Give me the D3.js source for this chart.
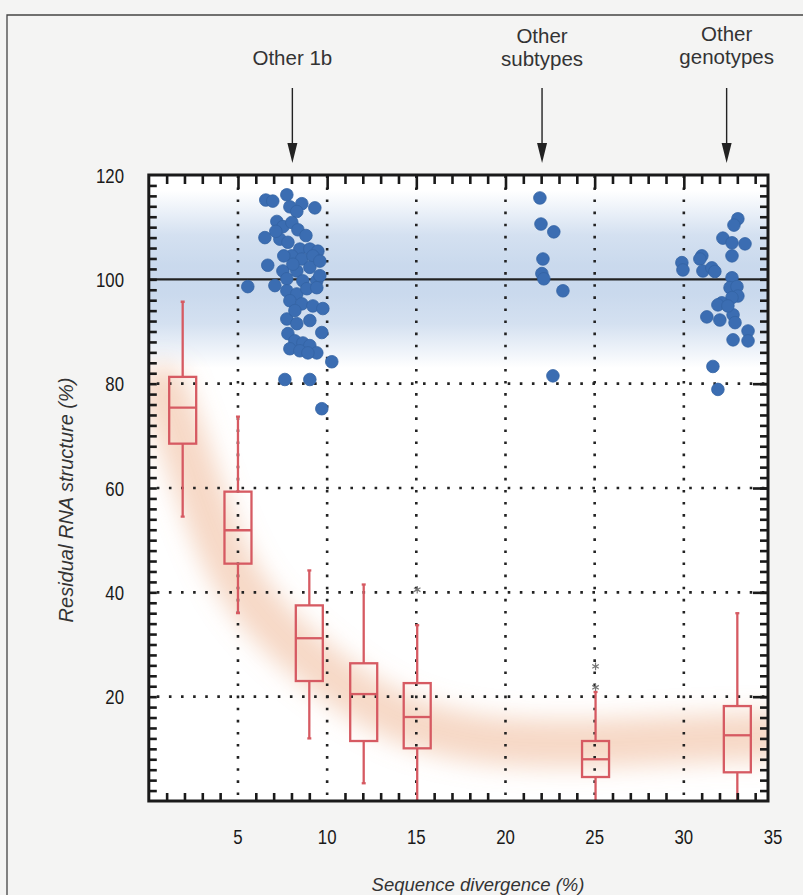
<!DOCTYPE html>
<html>
<head>
<meta charset="utf-8">
<script src="https://cdn.jsdelivr.net/npm/d3@7"></script>
<style>
  body { margin: 0; background: #f4f4f3; }
  svg { display: block; }
</style>
</head>
<body>
<div class="chart"></div>
<script>
// box plots per divergence bin
const boxX = [1.9, 5.0, 9.0, 12.05, 15.05, 25.05, 33.0];
const boxLow = [54.5, 36, 12, 3.4, 0, 0, 0];
const boxQ1 = [68.5, 45.5, 23, 11.5, 10.1, 4.6, 5.5];
const boxMedian = [75.4, 51.9, 31.2, 20.5, 16.1, 8.0, 12.6];
const boxQ3 = [81.3, 59.3, 37.5, 26.4, 22.6, 11.5, 18.2];
const boxHigh = [95.7, 73.7, 44.2, 41.5, 33.7, 20.9, 36];
const outlierX = [15.05, 25.05, 25.05];
const outlierY = [40.5, 25.8, 21.8];

// scatter groups
const other1bX = [6.56, 6.95, 7.74, 7.91, 8.58, 9.31, 8.30, 7.18, 7.52, 8.02, 8.36, 6.51, 7.35, 7.80, 8.47,
  9.03, 9.48, 8.02, 8.58, 9.20, 6.67, 7.52, 8.30, 9.03, 7.74, 8.64, 9.42, 9.59, 5.55, 7.07, 7.74, 8.30, 8.86,
  9.42, 7.91, 8.58, 9.20, 9.76, 7.74, 8.30, 9.03, 9.70, 7.80, 8.19, 8.64, 9.03, 9.42, 7.91, 8.47, 8.92, 10.26,
  7.63, 9.03, 9.70, 7.12, 8.81, 9.59, 8.08, 7.57, 8.19];
const other1bY = [115.2, 115.0, 116.2, 113.9, 114.5, 113.7, 113.0, 111.1, 110.1, 110.9, 109.5, 108.0, 107.7, 107.1, 105.8,
  105.8, 105.4, 104.5, 103.9, 104.5, 102.7, 101.6, 101.6, 102.3, 100.1, 99.7, 99.7, 100.7, 98.6, 98.8, 97.8, 97.2, 98.2,
  98.4, 95.9, 95.3, 94.9, 94.4, 92.4, 91.5, 92.1, 89.8, 89.6, 88.2, 87.8, 87.3, 85.9, 86.7, 86.3, 85.9, 84.2,
  80.8, 80.8, 75.2, 109.2, 108.4, 103.5, 102.9, 104.5, 94.0];
const subtypesX = [21.93, 21.99, 22.71, 22.10, 22.04, 22.15, 23.22, 22.66];
const subtypesY = [115.6, 110.6, 109.1, 103.9, 101.1, 100.1, 97.8, 81.5];
const genotypesX = [33.03, 32.81, 32.19, 32.70, 33.43, 32.70, 31.01, 30.90, 29.89, 29.95, 31.07, 31.57, 31.74, 32.70,
  32.59, 32.98, 33.03, 32.70, 32.13, 31.91, 31.29, 32.02, 32.76, 32.87, 33.60, 33.60, 32.76, 31.63, 31.91, 32.47];
const genotypesY = [111.6, 110.4, 107.9, 107.0, 106.8, 104.5, 104.5, 103.9, 103.2, 101.8, 101.6, 102.2, 101.5, 100.3,
  98.4, 98.6, 96.8, 96.5, 95.5, 95.1, 92.8, 92.2, 93.2, 91.7, 90.1, 88.2, 88.4, 83.3, 78.9, 94.9];

// shaded decay trend behind the boxes
const trendX = [0.8, 1.5, 2.5, 3.5, 4.5, 6, 8, 10, 12, 14, 16, 19, 22, 25, 28, 31, 34.7];
const trendY = [79, 73, 63, 53, 45, 37, 30, 24.5, 19.5, 16, 13.5, 11.5, 11, 11, 11.5, 12, 12.5];

const xTickLabels = [5, 10, 15, 20, 25, 30, 35];
const yTickLabels = [20, 40, 60, 80, 100, 120];
const gridX = [5, 10, 15, 20, 25, 30];
const gridY = [20, 40, 60, 80];
const arrowX = [8.05, 22.05, 32.4];
const arrowText = [["Other 1b"], ["Other", "subtypes"], ["Other", "genotypes"]];

const width = 803, height = 895;
const x = d3.scaleLinear().domain([0, 35]).range([148.8, 773]);
const y = d3.scaleLinear().domain([0, 120]).range([801, 175]);
const xEnd = 34.72;
const boxColor = "#d65a62", dotColor = "#3b6db2";
const font = "'Liberation Sans', Arial, sans-serif";

const svg = d3.select(".chart").append("svg")
  .attr("width", width)
  .attr("height", height);

const defs = svg.append("defs");
defs.append("clipPath").attr("id", "plot")
  .append("rect")
  .attr("x", x(0)).attr("y", y(120))
  .attr("width", x(xEnd) - x(0)).attr("height", y(0) - y(120));

const grad = defs.append("linearGradient").attr("id", "band")
  .attr("x1", 0).attr("x2", 0).attr("y1", 0).attr("y2", 1);
[[0, 0], [0.25, 0.5], [0.42, 0.62], [0.58, 0.62], [0.75, 0.5], [1, 0]].forEach(function (s) {
  grad.append("stop").attr("offset", s[0]).attr("stop-color", "#a9c2e2").attr("stop-opacity", s[1]);
});

defs.append("filter").attr("id", "blur")
  .attr("x", "-20%").attr("y", "-20%").attr("width", "140%").attr("height", "140%")
  .append("feGaussianBlur").attr("stdDeviation", 12);

// page frame
svg.append("path")
  .attr("d", "M7,895 L7,15 L803,15")
  .attr("fill", "none").attr("stroke", "#444").attr("stroke-width", 1.3);

// plot background
svg.append("rect")
  .attr("x", x(0)).attr("y", y(120))
  .attr("width", x(xEnd) - x(0)).attr("height", y(0) - y(120))
  .attr("fill", "#ffffff");

const plot = svg.append("g").attr("clip-path", "url(#plot)");

plot.append("rect")
  .attr("x", x(0)).attr("y", y(117))
  .attr("width", x(xEnd) - x(0)).attr("height", y(83) - y(117))
  .attr("fill", "url(#band)");

const trendLine = d3.line()
  .x(function (d, i) { return x(trendX[i]); })
  .y(function (d) { return y(d); })
  .curve(d3.curveBasis);

plot.append("path")
  .attr("d", trendLine(trendY))
  .attr("fill", "none")
  .attr("stroke", "#e9a276")
  .attr("stroke-width", 48)
  .attr("stroke-opacity", 0.42)
  .attr("stroke-linecap", "round")
  .attr("filter", "url(#blur)");

// dotted grid
plot.selectAll(".gx").data(gridX).enter().append("line")
  .attr("x1", function (d) { return x(d); }).attr("x2", function (d) { return x(d); })
  .attr("y1", y(0) - 6).attr("y2", y(120))
  .attr("stroke", "#222").attr("stroke-width", 2.6).attr("stroke-dasharray", "2.6,9.5");
plot.selectAll(".gy").data(gridY).enter().append("line")
  .attr("x1", x(0) + 8).attr("x2", x(xEnd))
  .attr("y1", function (d) { return y(d); }).attr("y2", function (d) { return y(d); })
  .attr("stroke", "#222").attr("stroke-width", 2.6).attr("stroke-dasharray", "2.6,9.5");

plot.append("line")
  .attr("x1", x(0)).attr("x2", x(xEnd))
  .attr("y1", y(100)).attr("y2", y(100))
  .attr("stroke", "#222").attr("stroke-width", 2.2);

// box plots
const boxW = 27;
const boxes = plot.selectAll(".box").data(boxX).enter().append("g")
  .attr("stroke", boxColor).attr("stroke-width", 2.3).attr("fill", "none");
boxes.append("line")
  .attr("x1", function (d) { return x(d); }).attr("x2", function (d) { return x(d); })
  .attr("y1", function (d, i) { return y(boxHigh[i]); }).attr("y2", function (d, i) { return y(boxQ3[i]); });
boxes.append("line")
  .attr("x1", function (d) { return x(d); }).attr("x2", function (d) { return x(d); })
  .attr("y1", function (d, i) { return y(boxQ1[i]); }).attr("y2", function (d, i) { return y(boxLow[i]); });
boxes.append("line")
  .attr("x1", function (d) { return x(d) - 2; }).attr("x2", function (d) { return x(d) + 2; })
  .attr("y1", function (d, i) { return y(boxHigh[i]); }).attr("y2", function (d, i) { return y(boxHigh[i]); });
boxes.append("line")
  .attr("x1", function (d) { return x(d) - 2; }).attr("x2", function (d) { return x(d) + 2; })
  .attr("y1", function (d, i) { return y(boxLow[i]); }).attr("y2", function (d, i) { return y(boxLow[i]); });
boxes.append("rect")
  .attr("x", function (d) { return x(d) - boxW / 2; })
  .attr("y", function (d, i) { return y(boxQ3[i]); })
  .attr("width", boxW)
  .attr("height", function (d, i) { return y(boxQ1[i]) - y(boxQ3[i]); });
boxes.append("line")
  .attr("x1", function (d) { return x(d) - boxW / 2; }).attr("x2", function (d) { return x(d) + boxW / 2; })
  .attr("y1", function (d, i) { return y(boxMedian[i]); }).attr("y2", function (d, i) { return y(boxMedian[i]); });

plot.selectAll(".outlier").data(outlierX).enter().append("path")
  .attr("transform", function (d, i) { return "translate(" + x(d) + "," + y(outlierY[i]) + ")"; })
  .attr("d", d3.symbol().type(d3.symbolAsterisk).size(40))
  .attr("fill", "none").attr("stroke", "#777").attr("stroke-width", 1.2);

// scatter groups
function drawPoints(xs, ys) {
  plot.append("g").selectAll("circle").data(xs).enter().append("circle")
    .attr("cx", function (d) { return x(d); })
    .attr("cy", function (d, i) { return y(ys[i]); })
    .attr("r", 6.3)
    .attr("fill", dotColor)
    .attr("stroke", "#3463a3")
    .attr("stroke-width", 0.8);
}
drawPoints(other1bX, other1bY);
drawPoints(subtypesX, subtypesY);
drawPoints(genotypesX, genotypesY);

// axes: inward ticks on all four sides
const minorX = d3.range(1, 35).filter(function (v) { return v % 5 !== 0; });
const majorX = [5, 10, 15, 20, 25, 30];
const ticksY = d3.range(2, 120, 2);

function styleAxis(g) {
  g.select(".domain").remove();
  g.selectAll("line").attr("stroke", "#1a1a1a").attr("stroke-width", 2.6);
}

svg.append("g").attr("transform", "translate(0," + y(0) + ")")
  .call(d3.axisBottom(x).tickValues(minorX).tickSize(-8).tickFormat(""))
  .call(styleAxis);
svg.append("g").attr("transform", "translate(0," + y(120) + ")")
  .call(d3.axisTop(x).tickValues(minorX).tickSize(-9).tickFormat(""))
  .call(styleAxis);
svg.append("g").attr("transform", "translate(0," + y(120) + ")")
  .call(d3.axisTop(x).tickValues(majorX).tickSize(-14).tickFormat(""))
  .call(styleAxis);
svg.append("g").attr("transform", "translate(" + x(0) + ",0)")
  .call(d3.axisLeft(y).tickValues(ticksY).tickSize(-8).tickFormat(""))
  .call(styleAxis);
svg.append("g").attr("transform", "translate(" + x(xEnd) + ",0)")
  .call(d3.axisRight(y).tickValues(ticksY).tickSize(-8).tickFormat(""))
  .call(styleAxis);
svg.append("g").attr("transform", "translate(" + x(xEnd) + ",0)")
  .call(d3.axisRight(y).tickValues(gridY).tickSize(-15).tickFormat(""))
  .call(styleAxis);

svg.append("rect")
  .attr("x", x(0)).attr("y", y(120))
  .attr("width", x(xEnd) - x(0)).attr("height", y(0) - y(120))
  .attr("fill", "none").attr("stroke", "#1a1a1a").attr("stroke-width", 3);

// tick labels (condensed)
svg.selectAll(".xl").data(xTickLabels).enter().append("text")
  .attr("transform", function (d) { return "translate(" + x(d) + ",844) scale(0.8,1)"; })
  .attr("text-anchor", "middle")
  .style("font-family", font)
  .style("font-size", "21px")
  .attr("fill", "#1a1a1a")
  .text(function (d) { return d; });
svg.selectAll(".yl").data(yTickLabels).enter().append("text")
  .attr("transform", function (d) { return "translate(124," + (y(d) + 7.5) + ") scale(0.8,1)"; })
  .attr("text-anchor", "end")
  .style("font-family", font)
  .style("font-size", "21px")
  .attr("fill", "#1a1a1a")
  .text(function (d) { return d; });

// axis titles
svg.append("text")
  .attr("transform", "translate(73,500) rotate(-90)")
  .attr("text-anchor", "middle")
  .style("font-family", font)
  .style("font-size", "20px")
  .style("font-style", "italic")
  .attr("fill", "#333")
  .text("Residual RNA structure (%)");
svg.append("text")
  .attr("x", 478).attr("y", 891)
  .attr("text-anchor", "middle")
  .style("font-family", font)
  .style("font-size", "18.5px")
  .style("font-style", "italic")
  .attr("fill", "#333")
  .text("Sequence divergence (%)");

// arrows with group labels
const ann = svg.selectAll(".ann").data(arrowX).enter().append("g")
  .attr("transform", function (d) { return "translate(" + x(d) + ",0)"; });
ann.append("line")
  .attr("x1", 0).attr("x2", 0).attr("y1", 88).attr("y2", 150)
  .attr("stroke", "#222").attr("stroke-width", 1.4);
ann.append("path")
  .attr("d", "M-5,143 L5,143 L0,163 Z")
  .attr("fill", "#222");
ann.each(function (d, i) {
  const lines = arrowText[i];
  const base = lines.length === 1 ? 65 : (i === 2 ? 41 : 43);
  d3.select(this).selectAll("text").data(lines).enter().append("text")
    .attr("x", 0)
    .attr("y", function (t, j) { return base + j * 23; })
    .attr("text-anchor", "middle")
    .style("font-family", font)
    .style("font-size", "20.5px")
    .attr("fill", "#333")
    .text(function (t) { return t; });
});
</script>
</body>
</html>
